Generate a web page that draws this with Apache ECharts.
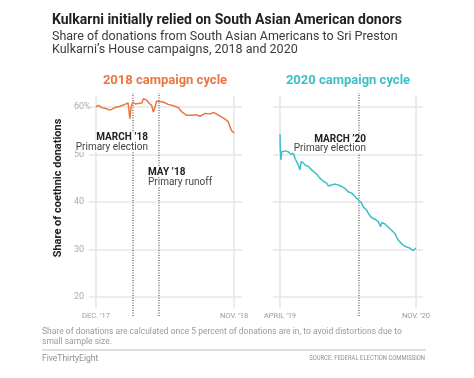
<!DOCTYPE html>
<html><head><meta charset="utf-8">
<script src="https://cdn.jsdelivr.net/npm/echarts@6/dist/echarts.min.js"></script>
<style>html,body{margin:0;padding:0;background:#fff}#c{width:474px;height:378px}</style>
</head><body><div id="c"></div>
<script>
// ---- data ----
const dates2018 = ['2017-12-01','2017-12-07','2017-12-15','2017-12-23','2018-01-04','2018-01-11','2018-01-18','2018-01-28','2018-02-09','2018-02-17','2018-02-20','2018-02-21','2018-02-24','2018-02-28','2018-03-06','2018-03-13','2018-03-22','2018-03-26','2018-04-03','2018-04-09','2018-04-15','2018-04-19','2018-04-23','2018-04-27','2018-05-05','2018-05-13','2018-05-25','2018-06-07','2018-06-19','2018-06-27','2018-07-09','2018-07-21','2018-08-02','2018-08-10','2018-08-23','2018-09-04','2018-09-12','2018-09-20','2018-10-02','2018-10-10','2018-10-18','2018-10-22','2018-10-26','2018-11-01'];
const values2018 = [60.1,60.4,59.9,59.8,59.4,59.7,60.0,60.2,60.6,60.9,60.6,57.6,60.0,61.1,60.7,60.8,60.9,61.8,61.5,60.8,60.4,59.0,60.0,61.3,61.2,61.1,60.6,60.3,59.9,59.0,58.3,58.3,58.4,58.1,58.7,58.6,58.9,58.5,57.9,57.5,56.9,55.8,55.0,54.6];
const dates2020 = ['2019-04-01','2019-04-02','2019-04-05','2019-04-08','2019-04-15','2019-04-25','2019-05-06','2019-05-18','2019-05-28','2019-06-04','2019-06-11','2019-06-18','2019-06-25','2019-06-30','2019-07-09','2019-07-17','2019-07-24','2019-07-31','2019-08-07','2019-08-14','2019-08-21','2019-09-04','2019-09-19','2019-10-03','2019-10-17','2019-10-24','2019-11-07','2019-11-22','2019-12-06','2019-12-20','2020-01-03','2020-01-17','2020-02-01','2020-02-08','2020-02-22','2020-02-29','2020-03-14','2020-03-21','2020-04-05','2020-04-12','2020-04-26','2020-05-10','2020-05-24','2020-05-31','2020-06-03','2020-06-08','2020-06-22','2020-07-13','2020-08-03','2020-08-17','2020-09-01','2020-09-15','2020-10-06','2020-10-20','2020-10-28','2020-11-01'];
const values2020 = [54.3,51.3,48.9,50.6,51.0,50.8,50.6,50.1,50.3,49.2,48.9,47.8,46.8,48.5,48.3,47.8,48.0,47.5,47.9,46.8,46.4,45.9,45.0,44.4,44.0,43.4,43.6,43.8,43.6,43.3,42.9,42.2,41.9,41.5,40.8,40.6,39.8,39.0,38.3,37.6,36.7,36.4,35.9,35.8,34.8,35.7,35.4,34.4,33.4,32.0,31.2,30.7,30.3,29.8,30.1,30.3];
const yTicks = [20, 30, 40, 50, 60];
const xTicks2018 = ['2017-12-01', '2018-11-01'];
const xLabels2018 = ['DEC. ’17', 'NOV. ’18'];
const xTicks2020 = ['2019-04-01', '2020-11-01'];
const xLabels2020 = ['APRIL ’19', 'NOV. ’20'];
const events2018 = ['2018-03-01', '2018-05-01'];
const events2020 = ['2020-03-01'];

// ---- helpers: dates -> day number (days since 2017-12-01, UTC) ----
const day = s => { const p = s.split('-').map(Number); return Math.round((Date.UTC(p[0], p[1] - 1, p[2]) - Date.UTC(2017, 11, 1)) / 864e5); };
const ORANGE = '#ec7540', TEAL = '#3cbfc7';
const FONT = 'Roboto, "Noto Sans", sans-serif';

function xAxisFor(idx, ticks, labels, minD, maxD) {
  const tv = ticks.map(day);
  return {
    type: 'value', gridIndex: idx, min: day(minD), max: day(maxD),
    axisLine: { show: false }, axisTick: { show: false }, splitLine: { show: false },
    axisLabel: {
      customValues: tv, margin: 0, verticalAlign: 'middle', color: '#9a9a9a', fontSize: 7.5, fontFamily: FONT,
      formatter: v => { const i = tv.indexOf(Math.round(v)); return i >= 0 ? labels[i] : ''; }
    }
  };
}
function yAxisFor(idx, showLabels) {
  return {
    type: 'value', gridIndex: idx, min: 16, max: 63,
    axisLine: { show: false }, axisTick: { show: false }, splitLine: { show: false },
    axisLabel: {
      show: showLabels, customValues: yTicks, align: 'left', margin: 15, color: '#aaaaaa', fontSize: 9, fontFamily: FONT,
      formatter: v => v === 60 ? '60%' : String(v)
    }
  };
}
function guideSeries(idx, ticks, events) {
  const data = [];
  yTicks.forEach(v => data.push({ yAxis: v, lineStyle: { color: '#e6e6e6', width: 1.5, type: 'solid' } }));
  ticks.forEach(d => data.push([
    { coord: [day(d), 62.3], lineStyle: { color: '#e6e6e6', width: 1.5, type: 'solid' } },
    { coord: [day(d), 17.6] }
  ]));
  events.forEach(d => data.push({ xAxis: day(d), lineStyle: { color: '#777', width: 1.5, type: [1, 1.5] } }));
  return {
    type: 'line', xAxisIndex: idx, yAxisIndex: idx, data: [], z: 1, silent: true,
    markLine: { silent: true, symbol: ['none', 'none'], label: { show: false }, animation: false, data }
  };
}
function dataSeries(idx, dates, vals, color) {
  return {
    type: 'line', xAxisIndex: idx, yAxisIndex: idx, z: 5, showSymbol: false, animation: false,
    lineStyle: { color, width: 1.5 }, itemStyle: { color },
    data: dates.map((d, i) => [day(d), vals[i]])
  };
}
function txt(x, y, text, font, fill, align, extra, sx) {
  return { type: 'text', x, y, z: 10, silent: true, scaleX: sx || 1,
    style: Object.assign({ text, font, fill, align: align || 'left', verticalAlign: 'middle' }, extra || {}) };
}

const chart = echarts.init(document.getElementById('c'), null, { renderer: 'canvas' });
chart.setOption({
  animation: false,
  backgroundColor: '#fff',
  grid: [
    { left: 89, right: 232, top: 93, bottom: 62 },
    { left: 273, right: 51, top: 93, bottom: 62 }
  ],
  xAxis: [
    xAxisFor(0, xTicks2018, xLabels2018, '2017-11-14', '2018-11-20'),
    xAxisFor(1, xTicks2020, xLabels2020, '2019-03-02', '2020-12-01')
  ],
  yAxis: [yAxisFor(0, true), yAxisFor(1, false)],
  series: [
    guideSeries(0, xTicks2018, events2018),
    guideSeries(1, xTicks2020, events2020),
    dataSeries(0, dates2018, values2018, ORANGE),
    dataSeries(1, dates2020, values2020, TEAL)
  ],
  graphic: [
    txt(52, 20, 'Kulkarni initially relied on South Asian American donors', 'bold 14px ' + FONT, '#222'),
    txt(52, 37, 'Share of donations from South Asian Americans to Sri Preston', '12.5px ' + FONT, '#3a3a3a'),
    txt(52, 50, 'Kulkarni’s House campaigns, 2018 and 2020', '12.5px ' + FONT, '#3a3a3a'),
    txt(165, 81, '2018 campaign cycle', 'bold 13px ' + FONT, ORANGE, 'center'),
    txt(348, 81, '2020 campaign cycle', 'bold 13px ' + FONT, TEAL, 'center'),
    Object.assign(txt(58, 188, 'Share of coethnic donations', 'bold 11px ' + FONT, '#222', 'center'), { rotation: Math.PI / 2 }),
    txt(148, 137.5, 'MARCH ’18', 'bold 10px ' + FONT, '#222', 'right', { backgroundColor: '#fff' }),
    txt(148, 147, 'Primary election', '10px ' + FONT, '#444', 'right', { backgroundColor: '#fff' }),
    txt(148, 172.5, 'MAY ’18', 'bold 10px ' + FONT, '#222', 'left', { backgroundColor: '#fff' }),
    txt(148, 182, 'Primary runoff', '10px ' + FONT, '#444', 'left', { backgroundColor: '#fff' }),
    txt(366, 139, 'MARCH ’20', 'bold 10px ' + FONT, '#222', 'right', { backgroundColor: '#fff' }),
    txt(366, 148.5, 'Primary election', '10px ' + FONT, '#444', 'right', { backgroundColor: '#fff' }),
    txt(42, 332, 'Share of donations are calculated once 5 percent of donations are in, to avoid distortions due to', '9.5px ' + FONT, '#9a9a9a', 'left', null, 0.895),
    txt(42, 342, 'small sample size.', '9.5px ' + FONT, '#9a9a9a', 'left', null, 0.895),
    { type: 'rect', shape: { x: 42, y: 349.5, width: 384, height: 1 }, style: { fill: '#bdbdbd' }, silent: true },
    txt(42, 358.5, 'FiveThirtyEight', '8.5px ' + FONT, '#8f8f8f'),
    txt(425, 358.5, 'SOURCE: FEDERAL ELECTION COMMISSION', '7px ' + FONT, '#8f8f8f', 'right', null, 0.84)
  ]
});
</script>
</body></html>
